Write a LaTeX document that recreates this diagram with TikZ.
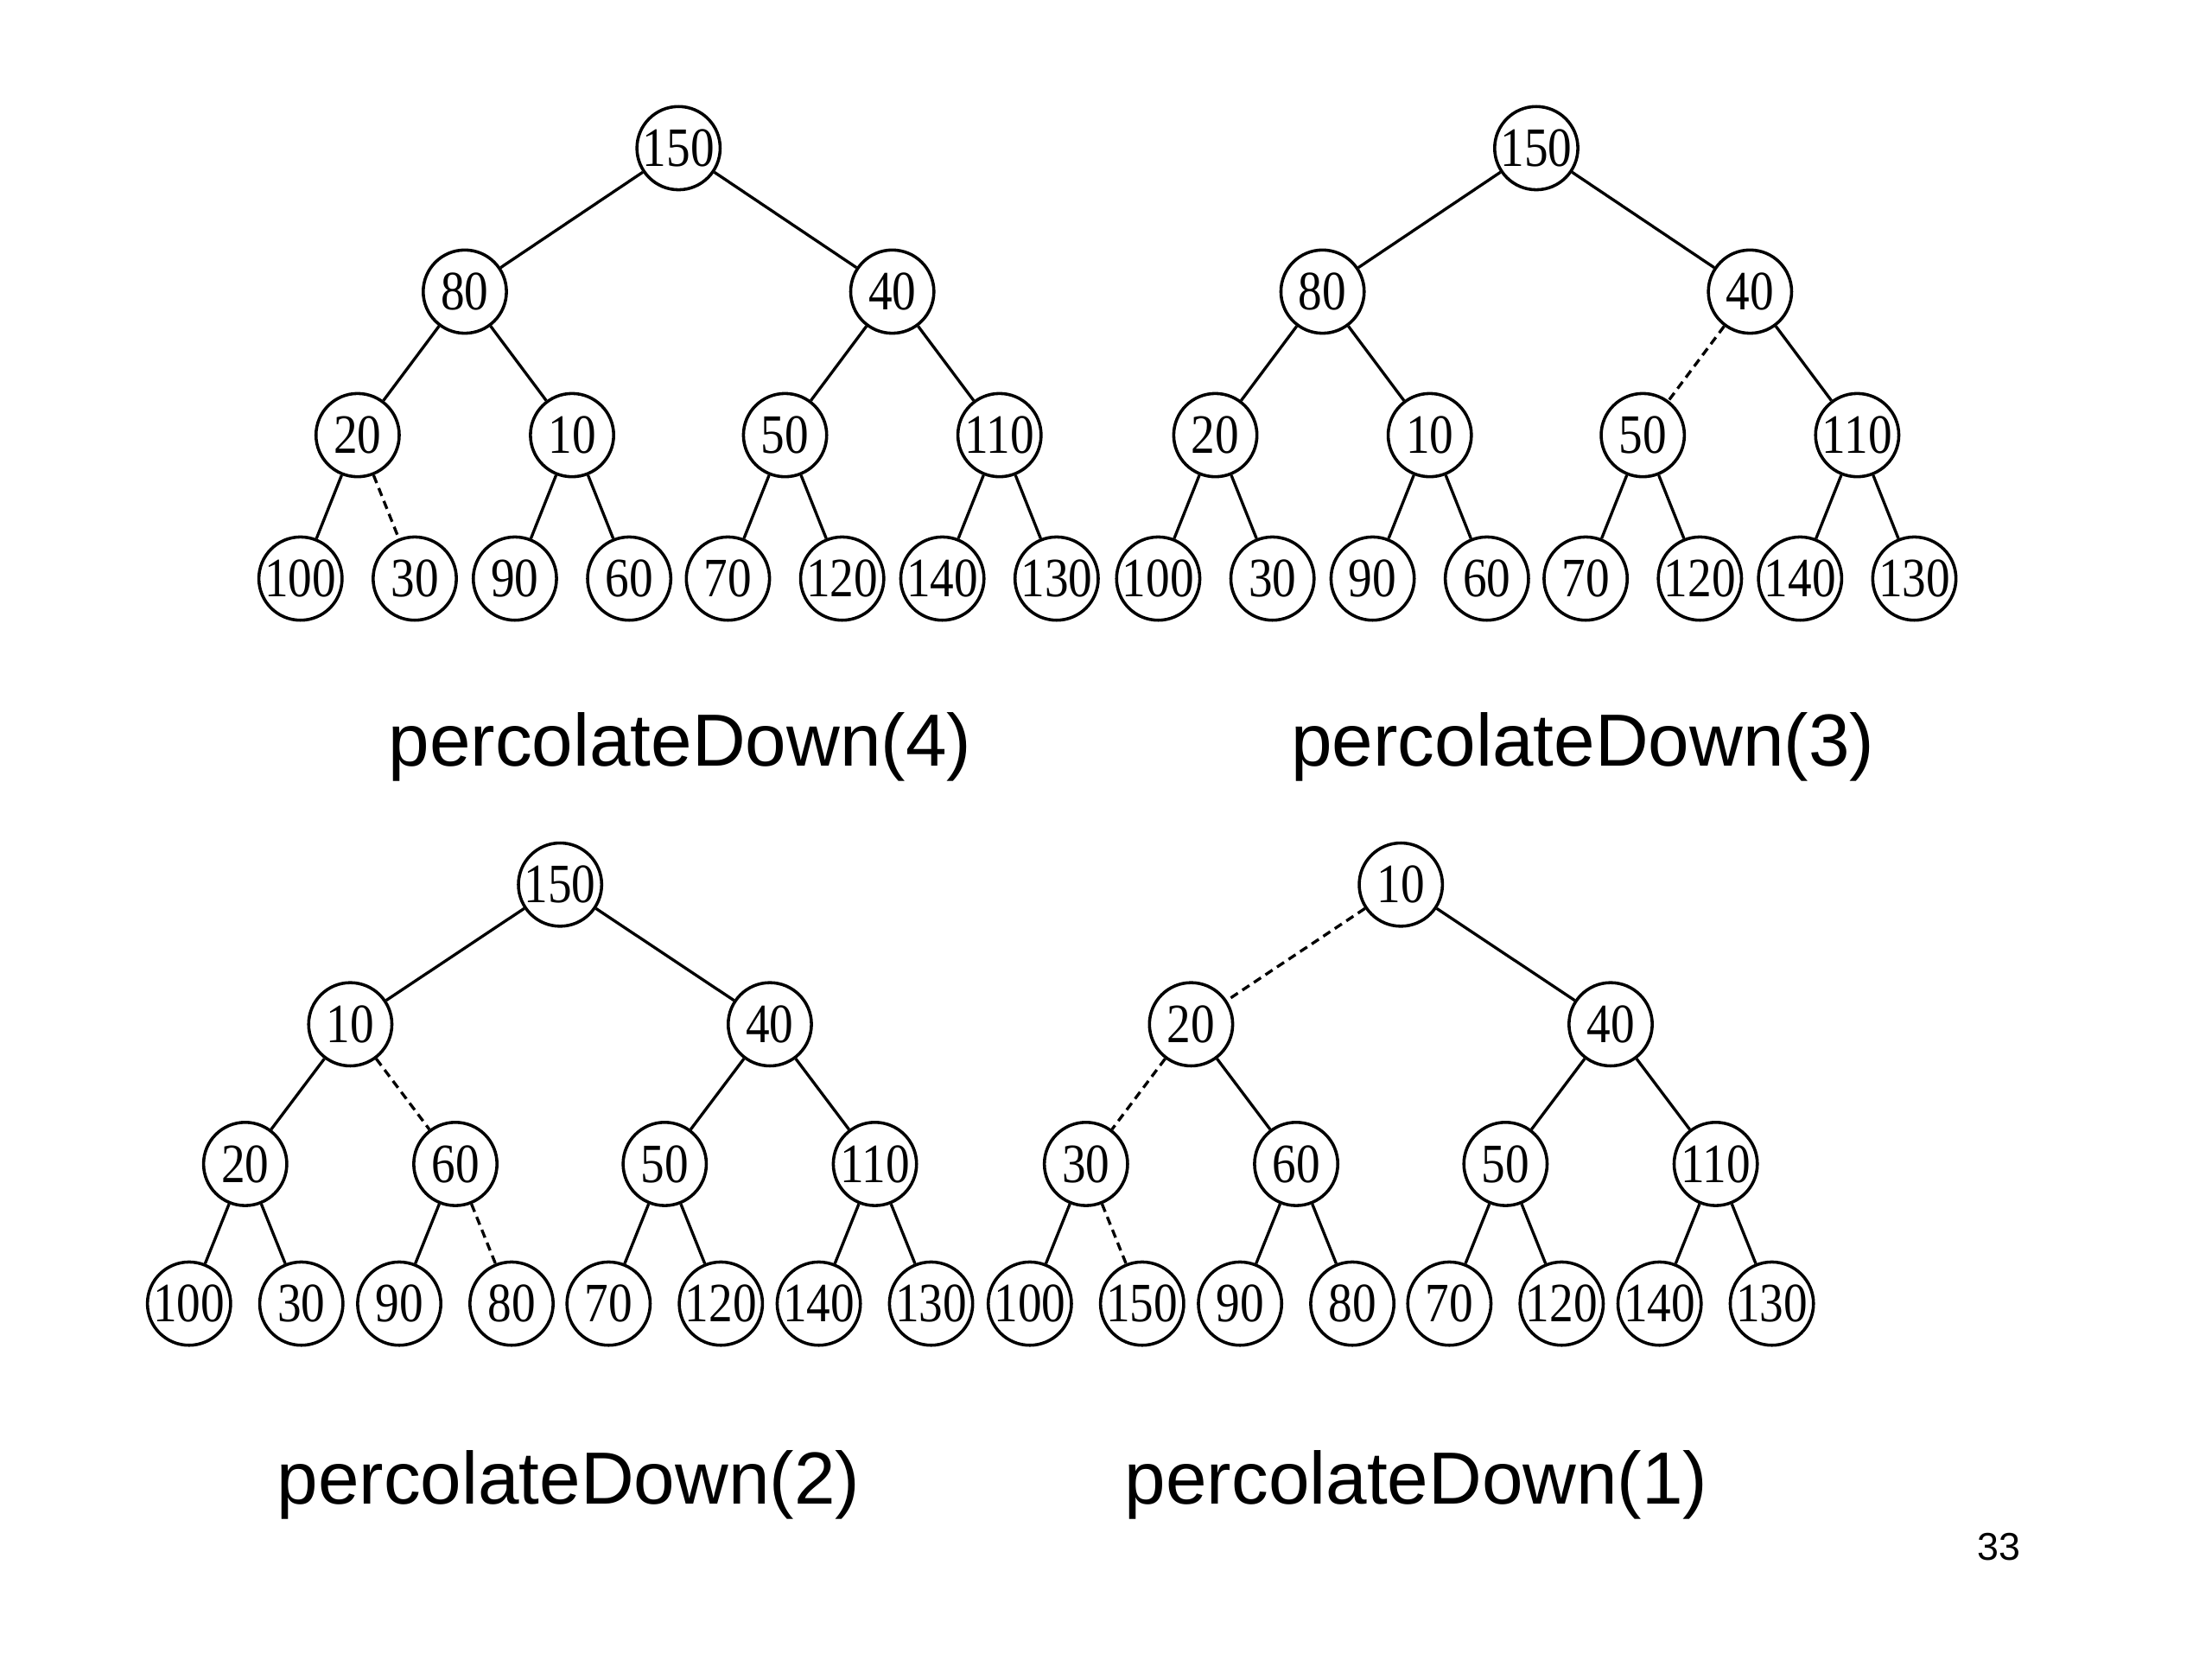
\documentclass[tikz,border=0pt]{standalone}
\usepackage{fontspec}
\setmainfont{Liberation Serif}
\newfontfamily\keyfont{Liberation Serif}[FakeStretch=0.86]
\newfontfamily\capfont{Liberation Sans}

% horizontal spread of each level and the gap between levels
\newcommand{\spreadA}{151.5}
\newcommand{\spreadB}{76}
\newcommand{\spreadC}{40.5}
\newcommand{\levelgap}{101.7}

% one heap of 15 keys: #1 name, #2 root x, #3 root y, #4 key/edge-style list
\newcommand{\heaptree}[4]{%
  \foreach \v/\e [count=\i] in {#4} {
    \pgfmathtruncatemacro\lvl{\i>7 ? 3 : (\i>3 ? 2 : (\i>1 ? 1 : 0))}
    \pgfmathsetmacro\px{#2 + (\lvl>0)*(2*mod(floor(\i/2^(\lvl-1)),2)-1)*\spreadA
      + (\lvl>1)*(2*mod(floor(\i/2^(\lvl-2)),2)-1)*\spreadB
      + (\lvl>2)*(2*mod(\i,2)-1)*\spreadC}
    \pgfmathsetmacro\py{#3 + \lvl*\levelgap}
    \node[heapkey] (#1-\i) at (\px,\py) {\v};
    \ifnum\i>1
      \pgfmathtruncatemacro\up{\i/2}
      \draw[\e] (#1-\up) -- (#1-\i);
    \fi
  }%
}

\begin{document}
\begin{tikzpicture}[x=0.1mm, y=-0.1mm,
    heapkey/.style={draw, circle, line width=0.62pt, minimum size=5.9mm, inner sep=0pt,
      font=\keyfont\fontsize{11.2}{13}\selectfont},
    kept/.style={line width=0.58pt},
    moved/.style={line width=0.58pt, dash pattern=on 1.7pt off 1.1pt},
    caption/.style={anchor=base, font=\capfont\fontsize{14.9}{17}\selectfont}]
  \useasboundingbox (0,0) rectangle (1568,1176);

  % Top row
  \heaptree{pdfour}{481}{105}{150/kept, 80/kept, 40/kept, 20/kept, 10/kept, 50/kept, 110/kept,
    100/kept, 30/moved, 90/kept, 60/kept, 70/kept, 120/kept, 140/kept, 130/kept}
  \heaptree{pdthree}{1089}{105}{150/kept, 80/kept, 40/kept, 20/kept, 10/kept, 50/moved, 110/kept,
    100/kept, 30/kept, 90/kept, 60/kept, 70/kept, 120/kept, 140/kept, 130/kept}

  \node[caption] (capfour) at (482,543) {percolateDown(4)};
  \node[caption] (capthree) at (1122,543) {percolateDown(3)};

  % Bottom row (a little tighter)
  \renewcommand{\spreadA}{148.7}
  \renewcommand{\spreadB}{74.5}
  \renewcommand{\spreadC}{39.8}
  \renewcommand{\levelgap}{99}
  \heaptree{pdtwo}{397}{627}{150/kept, 10/kept, 40/kept, 20/kept, 60/moved, 50/kept, 110/kept,
    100/kept, 30/kept, 90/kept, 80/moved, 70/kept, 120/kept, 140/kept, 130/kept}
  \heaptree{pdone}{993}{627}{10/kept, 20/moved, 40/kept, 30/moved, 60/kept, 50/kept, 110/kept,
    100/kept, 150/moved, 90/kept, 80/kept, 70/kept, 120/kept, 140/kept, 130/kept}

  \node[caption] (captwo) at (403,1066) {percolateDown(2)};
  \node[caption] (capone) at (1004,1066) {percolateDown(1)};

  % Page number
  \node[caption, font=\capfont\fontsize{7.8}{9}\selectfont] (pageno) at (1417,1106) {33};
\end{tikzpicture}
\end{document}
